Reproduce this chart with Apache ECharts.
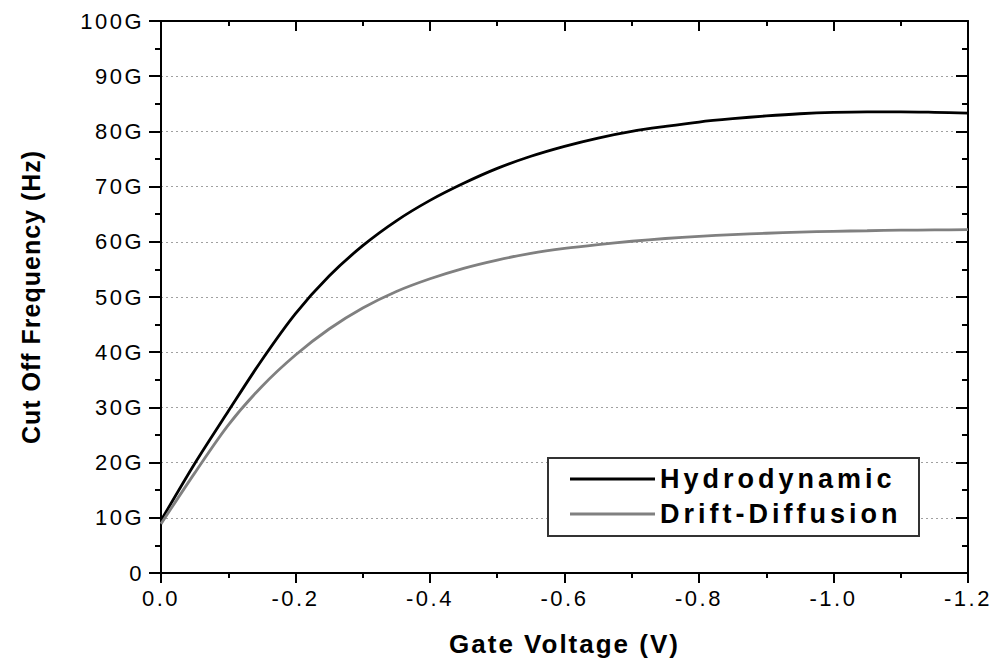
<!DOCTYPE html>
<html>
<head>
<meta charset="utf-8">
<script src="https://cdn.jsdelivr.net/npm/echarts@6/dist/echarts.min.js"></script>
<style>
html,body{margin:0;padding:0;background:#fff;}
#chart{width:995px;height:664px;}
#chart text[style*="22px"]{letter-spacing:2.5px;}
#chart text[style*="27px"]{letter-spacing:4px;}
#chart text[style*="26px"]{letter-spacing:2px;}
#chart text[style*="25px"]{letter-spacing:1px;}
</style>
</head>
<body>
<div id="chart"></div>
<script>
// Gate voltage (V)
const gateVoltage = [0, -0.05, -0.1, -0.15, -0.2, -0.25, -0.3, -0.35, -0.4, -0.45, -0.5, -0.55, -0.6,
  -0.65, -0.7, -0.75, -0.8, -0.85, -0.9, -0.95, -1.0, -1.05, -1.1, -1.15, -1.2];
// Cut off frequency in GHz
const hydrodynamic = [9.5, 19.8, 29.3, 38.6, 47.0, 53.8, 59.3, 63.8, 67.5, 70.6, 73.3, 75.5, 77.3,
  78.8, 80.0, 80.9, 81.7, 82.3, 82.8, 83.2, 83.45, 83.55, 83.55, 83.45, 83.3];
const driftDiffusion = [8.9, 18.1, 26.8, 33.8, 39.5, 44.2, 48.0, 51.0, 53.3, 55.2, 56.7, 57.9, 58.8,
  59.5, 60.1, 60.6, 61.0, 61.3, 61.55, 61.75, 61.9, 62.0, 62.1, 62.15, 62.2];
const seriesNames = ['Hydrodynamic', 'Drift-Diffusion'];
const xTitle = 'Gate Voltage (V)';
const yTitle = 'Cut Off Frequency (Hz)';

const FONT = '"Liberation Sans", Arial, sans-serif';
const chart = echarts.init(document.getElementById('chart'), null, {renderer: 'svg'});

const axisLineStyle = {color: '#000', width: 2};

function pairs(ys) { return gateVoltage.map((x, i) => [x, ys[i]]); }

chart.setOption({
  animation: false,
  backgroundColor: '#fff',
  grid: {left: 161, right: 27, top: 21, bottom: 91, containLabel: false},
  xAxis: [{
    type: 'value', min: -1.2, max: 0, interval: 0.2, inverse: true, position: 'bottom',
    axisLine: {show: true, onZero: false, lineStyle: axisLineStyle},
    axisTick: {show: true, inside: false, length: 10, lineStyle: {color: '#000', width: 2}},
    minorTick: {show: true, splitNumber: 2, length: 5, lineStyle: {color: '#000', width: 2}},
    splitLine: {show: false},
    axisLabel: {fontFamily: FONT, fontSize: 22, color: '#000', margin: 14,
      formatter: v => (Math.abs(v) < 1e-9 ? '0.0' : v.toFixed(1))},
    name: xTitle, nameLocation: 'middle', nameGap: 58,
    nameTextStyle: {fontFamily: FONT, fontSize: 26, fontWeight: 'bold', color: '#000'}
  }, {
    type: 'value', min: -1.2, max: 0, interval: 0.2, inverse: true, position: 'top',
    axisLine: {show: true, onZero: false, lineStyle: axisLineStyle},
    axisTick: {show: true, inside: true, length: 10, lineStyle: {color: '#000', width: 2}},
    minorTick: {show: true, splitNumber: 2, length: 5, lineStyle: {color: '#000', width: 2}},
    splitLine: {show: false},
    axisLabel: {show: false}
  }],
  yAxis: [{
    type: 'value', min: 0, max: 100, interval: 10, position: 'left',
    axisLine: {show: true, onZero: false, lineStyle: axisLineStyle},
    axisTick: {show: true, inside: false, length: 12, lineStyle: {color: '#000', width: 2}},
    minorTick: {show: true, splitNumber: 2, length: 6, lineStyle: {color: '#000', width: 2}},
    splitLine: {show: true, lineStyle: {color: '#a0a0a0', width: 1, type: [2, 3]}},
    axisLabel: {fontFamily: FONT, fontSize: 22, color: '#000', margin: 17,
      formatter: v => (v === 0 ? '0' : v + 'G')},
    name: yTitle, nameLocation: 'middle', nameGap: 118, nameRotate: 90,
    nameTextStyle: {fontFamily: FONT, fontSize: 25, fontWeight: 'bold', color: '#000'}
  }, {
    type: 'value', min: 0, max: 100, interval: 10, position: 'right',
    axisLine: {show: true, onZero: false, lineStyle: axisLineStyle},
    axisTick: {show: true, inside: true, length: 12, lineStyle: {color: '#000', width: 2}},
    minorTick: {show: true, splitNumber: 2, length: 6, lineStyle: {color: '#000', width: 2}},
    splitLine: {show: false},
    axisLabel: {show: false}
  }],
  legend: {
    show: true, orient: 'vertical', left: 570, top: 464, padding: 0,
    icon: 'rect', itemWidth: 85, itemHeight: 3, itemGap: 5, z: 6,
    data: seriesNames,
    textStyle: {fontFamily: FONT, fontSize: 27, fontWeight: 'bold', color: '#000', lineHeight: 30}
  },
  graphic: [{
    type: 'rect', z: 5, left: 547, top: 457,
    shape: {x: 0, y: 0, width: 371, height: 78},
    style: {fill: '#fff', stroke: '#333', lineWidth: 2}
  }],
  series: [{
    name: seriesNames[0], type: 'line', xAxisIndex: 0, yAxisIndex: 0,
    data: pairs(hydrodynamic), smooth: 0.3, symbol: 'none', showSymbol: false,
    lineStyle: {color: '#000', width: 2.8}, itemStyle: {color: '#000'}
  }, {
    name: seriesNames[1], type: 'line', xAxisIndex: 0, yAxisIndex: 0,
    data: pairs(driftDiffusion), smooth: 0.3, symbol: 'none', showSymbol: false,
    lineStyle: {color: '#808080', width: 2.8}, itemStyle: {color: '#808080'}
  }]
});
</script>
</body>
</html>
